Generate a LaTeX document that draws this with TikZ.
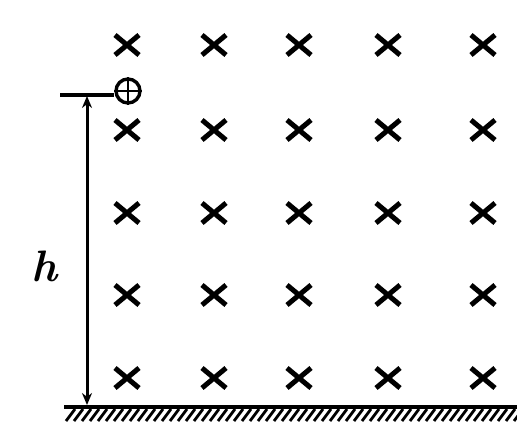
\documentclass[tikz,border=0pt]{standalone}
\usetikzlibrary{shapes.misc,arrows.meta}
\begin{document}
\begin{tikzpicture}[x=1pt,y=-1pt,
  xmark/.style={cross out,draw,line width=5pt,minimum width=19pt,minimum height=15pt,inner sep=0pt},
  charge/.style={circle,draw,line width=3.4pt,minimum size=24pt,inner sep=0pt},
  dimline/.style={line width=3pt,{Stealth[length=12pt,width=10pt]}-{Stealth[length=12pt,width=10pt]}},
  lbl/.style={font=\fontsize{44}{46}\selectfont\bfseries\itshape}]
\useasboundingbox (0,0) rectangle (517,428);
% crosses
\foreach \r/\y in {1/45,2/130,3/213,4/295,5/378}{
  \foreach \c/\x in {1/127,2/214,3/299,4/388,5/483}{
    \node[xmark] (x\r\c) at (\x,\y) {};
  }
}
% charge
\node[charge] (q) at (128,91) {};
\draw[line width=2.8pt] (q.north) -- (q.south);
\draw[line width=2.8pt] (q.west) -- (q.east);
\coordinate (tl) at (60,95);
\draw[line width=4.5pt] (tl) -- (q.west |- tl);
% ground
\coordinate (gl) at (64,407);
\coordinate (gr) at (517,407);
\draw[line width=4pt] (gl) -- (gr);
\foreach \i in {0,...,56}{
  \draw[line width=2.8pt] ({66+8*\i},421) -- ({75+8*\i},409);
}
% dimension
\coordinate (dt) at (87,96);
\coordinate (db) at (87,405);
\draw[dimline] (dt) -- (db);
\node[lbl] (h) at (45,266) {h};
\end{tikzpicture}
\end{document}
